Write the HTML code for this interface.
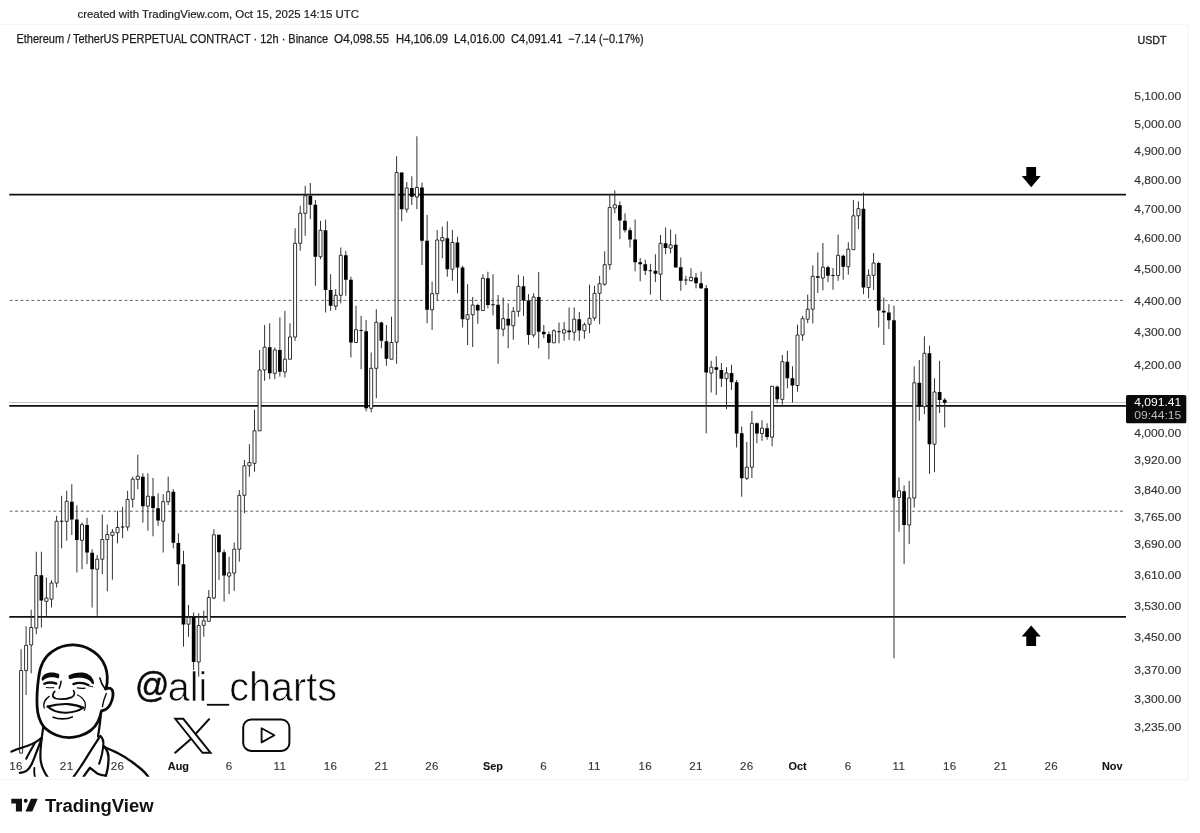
<!DOCTYPE html>
<html lang="en"><head><meta charset="utf-8"><title>ETHUSDT.P 12h chart</title>
<style>
html,body{margin:0;padding:0;background:#fff;}
body{width:1200px;height:833px;overflow:hidden;font-family:"Liberation Sans",sans-serif;}
svg{display:block}
svg text{font-family:"Liberation Sans",sans-serif;}
</style></head><body>
<svg width="1200" height="833" viewBox="0 0 1200 833">
<rect width="1200" height="833" fill="#fff"/>
<!-- chart frame -->
<rect x="-2" y="24.5" width="1190" height="755" fill="none" stroke="#f5f5f5" stroke-width="1.2"/>
<text x="77.5" y="18.4" font-size="11.6" fill="#222" stroke="#222" stroke-width="0.2" textLength="281.5" lengthAdjust="spacingAndGlyphs">created with TradingView.com, Oct 15, 2025 14:15 UTC</text>
<g font-size="11.9" fill="#1c1c1c" stroke="#1c1c1c" stroke-width="0.25">
<text x="16.5" y="43.2" textLength="311.5" lengthAdjust="spacingAndGlyphs">Ethereum / TetherUS PERPETUAL CONTRACT · 12h · Binance</text>
<text x="334" y="43.2" textLength="55" lengthAdjust="spacingAndGlyphs">O4,098.55</text>
<text x="396" y="43.2" textLength="52" lengthAdjust="spacingAndGlyphs">H4,106.09</text>
<text x="454" y="43.2" textLength="51" lengthAdjust="spacingAndGlyphs">L4,016.00</text>
<text x="511" y="43.2" textLength="51.5" lengthAdjust="spacingAndGlyphs">C4,091.41</text>
<text x="568.5" y="43.2" textLength="75" lengthAdjust="spacingAndGlyphs">−7.14 (−0.17%)</text>
</g>
<text x="1137.5" y="43.5" font-size="11.6" fill="#1c1c1c" stroke="#1c1c1c" stroke-width="0.35" textLength="29" lengthAdjust="spacingAndGlyphs">USDT</text>
<!-- level lines -->
<g stroke="#111" stroke-width="1.75" fill="none">
<path d="M9.3 194.7H1126M9.3 405.8H1126M9.3 616.8H1126"/>
</g>
<path d="M9.3 402.5H1126" stroke="#c4c4c4" stroke-width="1"/>
<path d="M9.6 300.4H1123.6M9.6 511.2H1123.6" stroke="#505050" stroke-width="0.9" stroke-dasharray="2.9 2.57" fill="none"/>
<!-- candles -->
<g id="candles">
<path d="M21.1 649.2V753.1M26.1 626.3V695M31.2 609.7V673.3M36.3 551.7V634.2M41.4 551.7V627.5M46.4 577.5V615.8M51.5 580.3V607.5M56.6 515.8V587.5M61.6 495.8V548.3M66.7 490.8V540.8M71.8 484.2V535M76.9 505.3V572.5M82 522.5V569.2M87 517.8V564.2M92.1 549.2V607.5M97.2 555V615.8M102.3 514.5V574.2M107.3 524.5V591.3M112.4 529V579.7M117.5 510.8V543.3M122.6 506.7V538.3M127.6 490.8V530.8M132.7 476.7V507.5M137.8 454.7V489.2M142.9 473.3V522.5M147.9 473.3V530.8M153 478V536.3M158.1 493.3V525.8M163.2 494.2V552.5M168.2 476.7V505M173.3 489.2V548.3M178.4 533.3V585.8M183.5 550.8V646.7M188.5 605V636.7M193.6 612.5V670M198.7 613.3V676.7M203.8 610.8V636.7M208.8 590V621.3M213.9 529.2V599.2M219 534.7V580M224.1 549.7V601.7M229.1 556.7V594.2M234.2 542.5V590.8M239.3 490V561.7M244.4 460V513.3M249.4 444.2V476.7M254.5 409.7V471.7M259.6 350V430.8M264.6 325V380.8M269.7 323.3V379.2M274.8 347.5V379.2M279.9 317.5V376.7M284.9 310.8V377.5M290 323.3V359.2M295.1 228.3V340.8M300.2 205.8V250.8M305.2 185.8V235.8M310.3 183V219.2M315.4 200V285.8M320.5 220.8V259.2M325.6 219.7V312.5M330.6 274.2V310.8M335.7 289.2V310M340.8 247.5V303.3M345.8 250.8V295.8M350.9 276.7V357.5M356 305.8V342.5M361.1 315.8V369.2M366.1 320V411.3M371.2 352.5V412.5M376.3 309.2V398.3M381.4 321.7V348.3M386.4 325V365.8M391.5 316.7V359.2M396.6 156.3V363.7M401.7 172.5V221.3M406.8 182V212.5M411.8 176.3V205M416.9 136.3V209.2M422 182.5V265M427.1 215V323.3M432.1 281.7V330M437.2 230V300M442.3 226.7V258.3M447.3 221.3V276.7M452.4 230V280.8M457.5 236.7V293.3M462.6 265.8V327.5M467.6 284.2V345M472.7 297V347M477.8 303.7V323.7M482.9 274.2V310.5M487.9 271.7V308.3M493 274.2V315.3M498.1 295V363.7M503.2 297.5V336.3M508.2 303.3V348.3M513.3 307V339.7M518.4 274.7V316.7M523.5 276.3V315.8M528.5 294.2V344.7M533.6 293.3V337.5M538.7 272V348.3M543.8 325V338.3M548.9 331.7V359.2M553.9 329.2V342.8M559 322.5V343.3M564.1 322V340.8M569.1 307.5V340M574.2 307.5V340.8M579.3 312V340.8M584.4 322.5V338.7M589.5 284.7V333.3M594.5 285.8V320.8M599.6 275.8V324.2M604.7 251.3V285.8M609.8 194.2V269.7M614.8 190.3V213.3M619.9 201.3V239.2M625 213.3V232.5M630 227.5V247.5M635.1 219.5V271.3M640.2 258V281.3M645.3 259.7V275M650.4 263.8V294.7M655.4 254.2V282M660.5 235V300M665.6 227.5V254.2M670.6 229.5V253.3M675.7 234.2V267.5M680.8 257.5V290.8M685.9 275.8V285M691 268.3V281.5M696 273V288.3M701.1 271.7V289M706.2 285V433.3M711.2 360.8V392.5M716.3 356.3V395M721.4 363V387M726.5 367.2V409.2M731.5 364.7V390M736.6 380V447.5M741.7 426.5V496.7M746.8 442V480M751.9 411V478M756.9 422.5V443.3M762 420.2V440.8M767.1 423.3V439.7M772.1 386V446.3M777.2 385.3V403.3M782.3 355V404.6M787.4 350.8V388.3M792.5 366.3V402.5M797.5 324.7V391.7M802.6 315.8V340.8M807.7 294.7V323M812.8 265.3V323.3M817.8 252.5V293M822.9 243V290.3M828 265.8V282M833 268V289.7M838.1 234.5V280.8M843.2 254.7V279.7M848.3 242.2V274.7M853.4 200V249.7M858.4 201.3V229.2M863.5 192.5V294.2M868.6 269.2V298.3M873.6 253V290M878.7 261.7V327.5M883.8 297.5V345M888.9 304.2V329.2M894 305.5V658.3M899 477.5V531.7M904.1 485.5V564.2M909.2 480.8V544.2M914.2 366.3V507.5M919.3 360V420.8M924.4 336.3V414.2M929.5 345.8V473.8M934.5 378.3V472.2M939.6 360.8V413M944.7 398V427.5" stroke="#333" stroke-width="1" fill="none"/>
<path d="M19.6 670.5h3V753.1h-3zM24.6 645.3h3V670.6h-3zM29.7 627.5h3V645h-3zM34.8 575.5h3V628h-3zM44.8 598.1h3.2v3.2h-3.2zM50 583h3V599.2h-3zM55.1 521.3h3V583h-3zM65.2 501.3h3V521.3h-3zM80.5 524.7h3V540.3h-3zM95.7 559.2h3V569.2h-3zM100.8 539.5h3V559.2h-3zM105.8 534.5h3V539.5h-3zM110.8 532.1h3.2v3.2h-3.2zM116 527.5h3V532.8h-3zM126.1 499.5h3V527h-3zM131.2 479.2h3V499.2h-3zM136.2 476.2h3.2v3.2h-3.2zM146.4 496.2h3V506.2h-3zM161.7 501.7h3V521.2h-3zM166.7 491.7h3V501.7h-3zM187 617.5h3V624.2h-3zM197.2 625.5h3V662h-3zM202.2 620.8h3V625.3h-3zM207.3 597.5h3V621.3h-3zM212.4 534.8h3V598h-3zM227.5 572.9h3.2v3.2h-3.2zM232.7 549.2h3V573h-3zM237.8 495.3h3V549.2h-3zM242.9 465.8h3V495.3h-3zM247.8 462.6h3.2v3.2h-3.2zM253 430.8h3V463.3h-3zM258.1 370h3V430.8h-3zM263.1 347.2h3V370h-3zM273.3 350h3V373.3h-3zM283.4 359.2h3V372h-3zM288.5 337h3V359.2h-3zM293.6 243.3h3V337h-3zM298.7 213.3h3V243.3h-3zM303.8 195.8h3V213.3h-3zM319 230.3h3V256.7h-3zM334.2 295.3h3V306.2h-3zM339.3 255.3h3V295.3h-3zM354.5 329.7h3V342.5h-3zM369.7 368.3h3V408.3h-3zM374.8 322.3h3V368.3h-3zM390 342.5h3V359.2h-3zM395.1 172.5h3V342.2h-3zM405.2 188h3V209.2h-3zM415.4 187.5h3V197h-3zM430.6 293.7h3V309.7h-3zM435.7 240h3V293.7h-3zM440.7 237.6h3.2v3.2h-3.2zM450.9 242.5h3V269.2h-3zM466.1 314.7h3V319.2h-3zM471.2 305h3V314.7h-3zM481.4 278.3h3V310.5h-3zM501.7 318.7h3V329.2h-3zM511.8 311.3h3V325.8h-3zM516.9 286.3h3V311.3h-3zM532.1 297h3V335h-3zM552.4 330.8h3V342.8h-3zM562.5 329.8h3.2v3.2h-3.2zM572.7 319.2h3V332.2h-3zM582.9 324.7h3V330.8h-3zM588 318.3h3V324.2h-3zM593 293.3h3V318h-3zM598.1 283.7h3V293.3h-3zM603.2 264.7h3V284.2h-3zM608.2 207.5h3V264.7h-3zM613.2 204.8h3.2v3.2h-3.2zM659 243.3h3V274.2h-3zM669 244.9h3.2v3.2h-3.2zM689.4 277.4h3.2v3.2h-3.2zM709.8 367.2h3V373h-3zM725 373h3V378.7h-3zM745.3 467.2h3V478.3h-3zM750.4 423.3h3V467.2h-3zM760.5 428.2h3V433.5h-3zM770.6 386.2h3V437.1h-3zM780.8 361.7h3V399.4h-3zM796 335h3V385.5h-3zM801.1 318.7h3V335h-3zM806.2 309.2h3V319.2h-3zM811.2 276.3h3V309.2h-3zM821.4 267.2h3V278h-3zM836.6 255.3h3V275.5h-3zM846.8 249.2h3V266.7h-3zM851.9 215.8h3V249.7h-3zM856.9 208.7h3V215.8h-3zM867.1 275.3h3V287.5h-3zM872.1 263h3V275.3h-3zM897.5 490.8h3V497.5h-3zM907.7 498h3V525h-3zM912.8 382.8h3V498h-3zM922.9 353.3h3V406.7h-3zM933 392h3V444.2h-3z" fill="#fff" stroke="#1e1e1e" stroke-width="0.9" stroke-linejoin="round"/>
<path d="M39.5 575.3h3.7V600.5h-3.7zM59.9 520.8h3.4v1h-3.4zM70 501.7h3.7V519.5h-3.7zM75 519.5h3.7V540h-3.7zM85.2 525h3.7V552.5h-3.7zM90.3 552.8h3.7V569.2h-3.7zM120.9 526.5h3.4v1h-3.4zM141 476.7h3.7V506.2h-3.7zM151.2 496.2h3.7V508h-3.7zM156.2 508.3h3.7V520.5h-3.7zM171.5 491.7h3.7V542.8h-3.7zM176.5 543h3.7V564.2h-3.7zM181.6 564.2h3.7V624.5h-3.7zM191.8 617h3.7V662h-3.7zM217.1 534.7h3.7V552.2h-3.7zM222.2 552.2h3.7V575.5h-3.7zM267.9 347.2h3.7V373.3h-3.7zM278 350h3.7V371.7h-3.7zM308.5 195.8h3.7V204.7h-3.7zM313.5 204.7h3.7V256.7h-3.7zM323.7 230.3h3.7V290h-3.7zM328.8 290h3.7V305.8h-3.7zM344 255.3h3.7V279.7h-3.7zM349.1 279.7h3.7V342.5h-3.7zM359.4 330h3.4v1h-3.4zM364.3 331.3h3.7V408.3h-3.7zM379.5 322.5h3.7V340.8h-3.7zM384.6 341.2h3.7V358.7h-3.7zM399.8 172.5h3.7V209.2h-3.7zM410 188h3.7V196.7h-3.7zM420.1 187.5h3.7V240.8h-3.7zM425.2 240.8h3.7V309.7h-3.7zM445.5 238.3h3.7V269.2h-3.7zM455.6 242.5h3.7V267.5h-3.7zM460.7 267.5h3.7V319.2h-3.7zM475.9 305h3.7V310.5h-3.7zM486.1 278.3h3.7V305h-3.7zM491.3 304.2h3.4v1h-3.4zM496.2 304.7h3.7V329.2h-3.7zM506.4 318.7h3.7V325.5h-3.7zM521.6 286.3h3.7V300.5h-3.7zM526.7 300.5h3.7V335h-3.7zM536.9 297h3.7V331.7h-3.7zM541.9 331.7h3.7V334.2h-3.7zM547 334.2h3.7V342.8h-3.7zM557.3 331.2h3.4v1h-3.4zM567.3 330.5h3.7V332.2h-3.7zM577.4 319.2h3.7V330.5h-3.7zM618 205.3h3.7V220.5h-3.7zM623.1 220.8h3.7V230.3h-3.7zM628.2 230.3h3.7V239.5h-3.7zM633.3 239.5h3.7V262.2h-3.7zM638.4 262.2h3.7V264.2h-3.7zM643.4 264.2h3.7V270.8h-3.7zM648.6 270.3h3.4v1h-3.4zM653.6 270.8h3.7V273.7h-3.7zM663.7 243.3h3.7V248h-3.7zM673.9 244.7h3.7V267.5h-3.7zM678.9 267.2h3.7V280.8h-3.7zM684.2 279.5h3.4v1h-3.4zM694.2 277.5h3.7V283.3h-3.7zM699.2 283.3h3.7V288.3h-3.7zM704.3 288.3h3.7V372.5h-3.7zM714.5 367.2h3.7V369.7h-3.7zM719.5 370h3.7V378.7h-3.7zM729.7 373h3.7V382.2h-3.7zM734.8 382.2h3.7V433.5h-3.7zM739.9 433.3h3.7V478.3h-3.7zM755.1 423.3h3.7V433.5h-3.7zM765.2 428.2h3.7V437.1h-3.7zM775.4 386.7h3.7V399.2h-3.7zM785.5 361.7h3.7V378.3h-3.7zM790.6 378.3h3.7V385.5h-3.7zM816 276.2h3.7V277.8h-3.7zM826.1 267.2h3.7V275.8h-3.7zM831.3 275h3.4v1h-3.4zM841.4 255.8h3.7V266.7h-3.7zM861.6 208.7h3.7V287.5h-3.7zM876.9 263h3.7V310.6h-3.7zM881.9 310.8h3.7V312.5h-3.7zM887 312.5h3.7V320.3h-3.7zM892.1 320.3h3.7V497.5h-3.7zM902.2 491.3h3.7V525h-3.7zM917.5 382.8h3.7V406.7h-3.7zM927.6 353.3h3.7V444.2h-3.7zM937.8 392h3.7V400h-3.7zM942.9 399.8h3.7V402.8h-3.7z" fill="#000"/>
</g>
<!-- arrows -->
<path d="M1026.3 167h9.8v9h4.6l-9.5 11.2l-9.5-11.2h4.6z" fill="#000"/>
<path d="M1026.3 646h9.8v-9.4h4.6l-9.5-11l-9.5 11h4.6z" fill="#000"/>
<!-- price axis -->
<g font-size="11.6" fill="#333" stroke="#333" stroke-width="0.15">
<text x="1134.3" y="99.8" textLength="47" lengthAdjust="spacingAndGlyphs">5,100.00</text>
<text x="1134.3" y="127.7" textLength="47" lengthAdjust="spacingAndGlyphs">5,000.00</text>
<text x="1134.3" y="155.3" textLength="47" lengthAdjust="spacingAndGlyphs">4,900.00</text>
<text x="1134.3" y="183.9" textLength="47" lengthAdjust="spacingAndGlyphs">4,800.00</text>
<text x="1134.3" y="213" textLength="47" lengthAdjust="spacingAndGlyphs">4,700.00</text>
<text x="1134.3" y="242.3" textLength="47" lengthAdjust="spacingAndGlyphs">4,600.00</text>
<text x="1134.3" y="273.3" textLength="47" lengthAdjust="spacingAndGlyphs">4,500.00</text>
<text x="1134.3" y="304.6" textLength="47" lengthAdjust="spacingAndGlyphs">4,400.00</text>
<text x="1134.3" y="336.2" textLength="47" lengthAdjust="spacingAndGlyphs">4,300.00</text>
<text x="1134.3" y="368.9" textLength="47" lengthAdjust="spacingAndGlyphs">4,200.00</text>
<text x="1134.3" y="436.8" textLength="47" lengthAdjust="spacingAndGlyphs">4,000.00</text>
<text x="1134.3" y="464.4" textLength="47" lengthAdjust="spacingAndGlyphs">3,920.00</text>
<text x="1134.3" y="493.5" textLength="47" lengthAdjust="spacingAndGlyphs">3,840.00</text>
<text x="1134.3" y="520.6" textLength="47" lengthAdjust="spacingAndGlyphs">3,765.00</text>
<text x="1134.3" y="547.9" textLength="47" lengthAdjust="spacingAndGlyphs">3,690.00</text>
<text x="1134.3" y="578.7" textLength="47" lengthAdjust="spacingAndGlyphs">3,610.00</text>
<text x="1134.3" y="609.9" textLength="47" lengthAdjust="spacingAndGlyphs">3,530.00</text>
<text x="1134.3" y="641.3" textLength="47" lengthAdjust="spacingAndGlyphs">3,450.00</text>
<text x="1134.3" y="674.1" textLength="47" lengthAdjust="spacingAndGlyphs">3,370.00</text>
<text x="1134.3" y="703.3" textLength="47" lengthAdjust="spacingAndGlyphs">3,300.00</text>
<text x="1134.3" y="731.2" textLength="47" lengthAdjust="spacingAndGlyphs">3,235.00</text>
</g>
<rect x="1126" y="395.1" width="60.3" height="28.1" rx="1.5" fill="#0a0a0a"/>
<text x="1134.3" y="406.3" font-size="11.4" fill="#fff" textLength="47" lengthAdjust="spacingAndGlyphs">4,091.41</text>
<text x="1134.3" y="418.8" font-size="11.4" fill="#bdbdbd" textLength="47" lengthAdjust="spacingAndGlyphs">09:44:15</text>
<!-- time axis -->
<g font-size="11.6" fill="#333" stroke="#333" stroke-width="0.12" letter-spacing="0.4">
<text x="16" y="770.3" text-anchor="middle">16</text>
<text x="66.7" y="770.3" text-anchor="middle">21</text>
<text x="117.5" y="770.3" text-anchor="middle">26</text>
<text x="178.4" y="770.3" text-anchor="middle" font-weight="bold" fill="#111" font-size="10.9" letter-spacing="0">Aug</text>
<text x="229.1" y="770.3" text-anchor="middle">6</text>
<text x="279.9" y="770.3" text-anchor="middle">11</text>
<text x="330.6" y="770.3" text-anchor="middle">16</text>
<text x="381.4" y="770.3" text-anchor="middle">21</text>
<text x="432.1" y="770.3" text-anchor="middle">26</text>
<text x="493" y="770.3" text-anchor="middle" font-weight="bold" fill="#111" font-size="10.9" letter-spacing="0">Sep</text>
<text x="543.8" y="770.3" text-anchor="middle">6</text>
<text x="594.5" y="770.3" text-anchor="middle">11</text>
<text x="645.3" y="770.3" text-anchor="middle">16</text>
<text x="696" y="770.3" text-anchor="middle">21</text>
<text x="746.8" y="770.3" text-anchor="middle">26</text>
<text x="797.5" y="770.3" text-anchor="middle" font-weight="bold" fill="#111" font-size="10.9" letter-spacing="0">Oct</text>
<text x="848.3" y="770.3" text-anchor="middle">6</text>
<text x="899" y="770.3" text-anchor="middle">11</text>
<text x="949.8" y="770.3" text-anchor="middle">16</text>
<text x="1000.5" y="770.3" text-anchor="middle">21</text>
<text x="1051.3" y="770.3" text-anchor="middle">26</text>
<text x="1112.2" y="770.3" text-anchor="middle" font-weight="bold" fill="#111" font-size="10.9" letter-spacing="0">Nov</text>
</g>
<!-- avatar (drawn in 7.06x space) -->
<clipPath id="avclip"><rect x="0" y="-100" width="1200" height="1066"/></clipPath>
<g transform="translate(0,640) scale(0.1416667)" clip-path="url(#avclip)" fill="none" stroke="#0a0a0a" stroke-linecap="round" stroke-linejoin="round">
<!-- head -->
<path stroke-width="19.5" fill="#fff" d="M308 612C285 580 265 530 262 470C258 400 264 330 272 270C280 190 310 120 370 80C420 46 470 33 520 35C600 38 680 80 725 150C752 195 762 250 756 305C754 322 750 335 745 346C760 338 780 338 792 352C802 375 795 420 778 455C765 480 745 497 716 500C712 525 705 550 690 578C670 620 620 660 560 678C510 692 450 692 400 672C360 655 330 635 308 612Z"/>
<!-- neck and shirt -->
<path stroke-width="15.5" d="M306 610C300 650 295 690 291 723C286 770 283 820 287 850C292 890 310 930 336 968"/>
<path stroke-width="15.5" d="M80 788C110 772 160 758 200 745C245 728 270 712 295 688"/>
<path stroke-width="14.6" d="M245 728C225 765 205 800 185 838"/>
<path stroke-width="15.5" d="M296 690C285 720 275 745 265 773C250 810 240 840 225 873C212 900 200 915 185 925C170 934 155 937 140 938"/>
<path stroke-width="13" d="M243 903C240 925 242 945 246 964"/>
<path stroke-width="15.5" d="M714 505C710 550 703 610 697 650C694 665 692 675 692 682"/>
<path stroke-width="15.5" d="M703 684C685 715 660 750 640 783C615 822 592 860 570 893C552 920 535 945 520 965"/>
<path stroke-width="14.6" d="M708 676C722 690 730 705 730 725C730 755 725 780 720 805C714 830 708 852 700 873"/>
<path stroke-width="16.2" d="M738 752C755 775 765 800 766 825C767 855 764 880 760 905C756 930 750 948 746 964"/>
<path stroke-width="16.2" d="M590 964C605 942 620 922 635 902C655 918 672 932 690 944C708 952 728 957 746 958"/>
<path stroke-width="16.8" d="M740 758C770 770 800 782 830 798C865 816 895 834 920 853C950 874 978 895 1000 914C1020 932 1035 948 1046 964"/>
<!-- eyebrows -->
<path stroke="none" fill="#0a0a0a" d="M294 268C302 248 324 234 350 230C376 227 400 232 416 240C421 251 419 264 412 272C392 264 366 262 346 265C328 268 312 277 302 289C295 284 292 276 294 268Z"/>
<path stroke="none" fill="#0a0a0a" d="M484 250C508 237 545 228 581 230C617 233 643 252 655 276C662 289 665 301 663 311C657 314 650 309 645 302C637 287 619 276 594 270C565 264 530 266 495 277C486 272 482 260 484 250Z"/>
<!-- eyes -->
<path stroke-width="16.2" d="M313 309C335 299 370 298 398 308"/>
<path stroke-width="8.1" d="M328 335C345 338 362 338 378 336"/>
<path stroke-width="16.2" d="M518 311C550 299 590 300 624 318"/>
<path stroke-width="8.1" d="M545 338C563 342 582 342 600 340"/>
<path stroke-width="6.5" d="M628 325C638 326 648 328 656 331"/>
<!-- nose -->
<path stroke-width="11" d="M431 292C429 309 424 326 418 340"/>
<path stroke-width="12" d="M386 363C369 381 364 403 394 413C424 420 474 417 508 403C527 392 530 373 519 358"/>
<!-- smile lines -->
<path stroke-width="9" d="M347 398C318 419 301 445 312 481"/>
<path stroke-width="9" d="M547 388C585 407 617 441 595 496"/>
<!-- mouth -->
<path stroke-width="15.5" d="M336 470C380 456 430 450 480 452C530 455 560 465 587 478"/>
<path stroke-width="14.6" d="M336 470C368 500 420 515 470 513C520 510 560 498 587 478"/>
<path stroke-width="11.4" d="M375 545C410 560 470 562 510 543"/>
<!-- ear / temple -->
<path stroke-width="10" d="M750 378C737 410 727 440 723 470"/>
<path stroke-width="11" d="M705 268C712 300 725 325 742 346"/>
</g>
<!-- handle text (thinned by overpainting a white stroke) -->
<text x="134.9" y="697.2" font-size="34.4" fill="#0a0a0a" stroke="#0a0a0a" stroke-width="0.5" textLength="34.3" lengthAdjust="spacingAndGlyphs">@</text>
<text x="167.7" y="700.6" font-size="40.7" fill="#0a0a0a" stroke="#fff" stroke-width="0.7" textLength="169.3" lengthAdjust="spacingAndGlyphs">ali<tspan dy="-2.6">_</tspan><tspan dy="2.6">charts</tspan></text>
<!-- X logo -->
<g fill="none" stroke="#0a0a0a" stroke-width="1.9" stroke-linejoin="miter">
<path d="M175.2 718.8H183.3L210.6 752.8H202.5Z"/>
<path d="M209.6 718.6L195.2 734.4M190.6 739.2L174.6 753.2" stroke-width="2.1"/>
</g>
<!-- YouTube logo -->
<rect x="243.2" y="719.5" width="46.2" height="31.4" rx="8" ry="8" fill="none" stroke="#0a0a0a" stroke-width="2"/>
<path d="M261.6 728.2V742.4L274.4 735.2Z" fill="none" stroke="#0a0a0a" stroke-width="1.8" stroke-linejoin="round"/>
<!-- TradingView logo -->
<g fill="#111">
<path d="M11.3 798.7H22V811.6H15.9V803.4H11.3Z"/>
<circle cx="25.7" cy="800.8" r="1.95"/>
<path d="M30.9 798.7H37.7L32.3 811.6H25.5Z"/>
</g>
<text x="45" y="811.6" font-size="18" font-weight="bold" fill="#111" textLength="108.6" lengthAdjust="spacingAndGlyphs">TradingView</text>

</svg>
</body></html>
